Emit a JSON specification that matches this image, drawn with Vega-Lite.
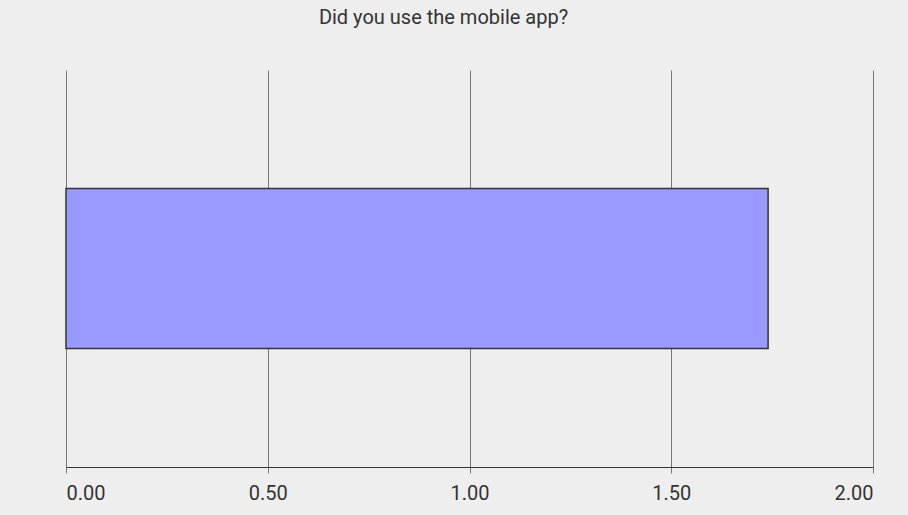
{
  "$schema": "https://vega.github.io/schema/vega-lite/v6.json",
  "width": 807,
  "height": 397,
  "autosize": {"type": "none"},
  "padding": {"left": 66, "top": 70, "right": 35, "bottom": 48},
  "background": "#eeeeee",
  "title": {
    "text": "Did you use the mobile app?",
    "font": "Roboto",
    "fontSize": 20,
    "fontWeight": "normal",
    "color": "#333333",
    "anchor": "middle",
    "dx": -26,
    "baseline": "alphabetic",
    "offset": 26
  },
  "data": {"values": [{"question": "Did you use the mobile app?", "value": 1.74}]},
  "mark": {"type": "bar", "size": 160, "color": "#9999ff", "stroke": "#333333", "strokeWidth": 1.5},
  "encoding": {
    "x": {
      "field": "value",
      "type": "quantitative",
      "scale": {"domain": [0, 2], "nice": false},
      "axis": {
        "title": null,
        "values": [0, 0.5, 1, 1.5, 2],
        "format": ".2f",
        "labelFont": "Roboto",
        "labelFontSize": 20,
        "labelColor": "#333333",
        "labelPadding": 10,
        "tickSize": 6,
        "tickColor": "#777777",
        "domainColor": "#333333",
        "domainWidth": 1,
        "grid": true,
        "gridColor": "#777777",
        "gridOpacity": 1
      }
    },
    "y": {"field": "question", "type": "nominal", "axis": null}
  },
  "config": {"view": {"stroke": null}}
}
